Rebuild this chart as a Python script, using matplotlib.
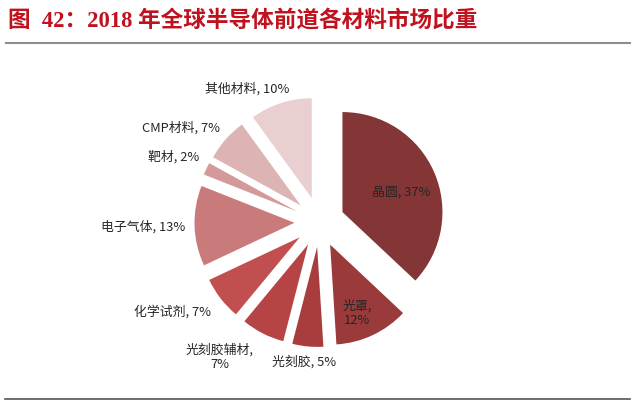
import matplotlib
matplotlib.use("Agg")
import matplotlib.pyplot as plt
from matplotlib.lines import Line2D

# ---- data ----
categories = ["晶圆", "光罩", "光刻胶", "光刻胶辅材", "化学试剂", "电子气体", "靶材", "CMP材料", "其他材料"]
shares = [37, 12, 5, 7, 7, 13, 2, 7, 10]
label_texts = ["晶圆, 37%", "光罩,\n12%", "光刻胶, 5%", "光刻胶辅材,\n7%", "化学试剂, 7%",
               "电子气体, 13%", "靶材, 2%", "CMP材料, 7%", "其他材料, 10%"]
title = "图  42：2018 年全球半导体前道各材料市场比重"

# ---- style / layout ----
colors = ["#843535", "#9A3A3A", "#A83D3D", "#B64444", "#C24F4F",
          "#C97B7B", "#D39A9A", "#DDB4B4", "#E9CFCF"]
label_pos_px = [(401, 192), (357, 313), (304, 362), (220, 357), (173, 312),
                (143, 227), (174, 157), (181, 128), (247, 89)]
W, H = 640, 401
cx, cy, R, EXP = 319.5, 222, 100, 25

fig = plt.figure(figsize=(W / 100, H / 100), dpi=100)
ax = fig.add_axes([0, 0, 1, 1])
ax.pie(shares, startangle=90, counterclock=False, colors=colors,
       radius=R, center=(cx, H - cy), explode=[EXP] * len(shares),
       wedgeprops=dict(linewidth=0, edgecolor="none"))
ax.set_aspect("auto")
ax.set_xlim(0, W)
ax.set_ylim(0, H)
ax.axis("off")

cjk = ["Noto Sans CJK SC", "DejaVu Sans"]
for txt, (px, py) in zip(label_texts, label_pos_px):
    ax.text(px, H - py, txt, ha="center", va="center", fontsize=9.3,
            color="#262626", family=cjk, linespacing=1.1)

fig.text(8 / W, 1 - 21 / H, title, ha="left", va="center", fontsize=16.3,
         fontweight="bold", color="#C0111F",
         family=["Liberation Serif", "Noto Sans CJK SC", "DejaVu Sans"])

fig.add_artist(Line2D([6 / W, 630 / W], [1 - 43 / H, 1 - 43 / H],
                      transform=fig.transFigure, color="#8C8C8C", linewidth=1.5))
fig.add_artist(Line2D([5 / W, 630 / W], [1 - 399 / H, 1 - 399 / H],
                      transform=fig.transFigure, color="#555555", linewidth=1.2))

fig.savefig("out.png", dpi=100)
